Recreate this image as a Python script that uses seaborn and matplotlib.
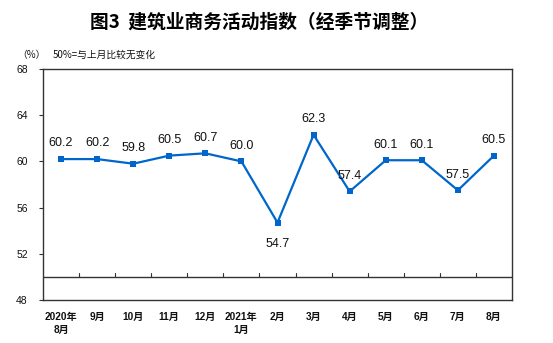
import matplotlib
matplotlib.use("Agg")
import matplotlib.pyplot as plt
import seaborn as sns
import pandas as pd

months = ["2020年\n8月", "9月", "10月", "11月", "12月", "2021年\n1月",
          "2月", "3月", "4月", "5月", "6月", "7月", "8月"]
index_values = [60.2, 60.2, 59.8, 60.5, 60.7, 60.0, 54.7, 62.3, 57.4, 60.1, 60.1, 57.5, 60.5]
y_ticks = [48, 52, 56, 60, 64, 68]

sns.set_theme(style="white")
plt.rcParams["font.family"] = ["Liberation Sans", "Noto Sans CJK SC", "DejaVu Sans"]

df = pd.DataFrame({"month": months, "value": index_values})
df["pos"] = range(len(df))

fig = plt.figure(figsize=(5.53, 3.43), dpi=100)
ax = fig.add_axes([43 / 553, 1 - 300 / 343, (512 - 43) / 553, (300 - 69) / 343])

line_color = "#0066CC"
sns.lineplot(data=df, x="pos", y="value", ax=ax, color=line_color, linewidth=1.6,
             marker="s", markersize=4.5, markeredgewidth=0, markerfacecolor=line_color)

ax.set_xlim(-0.5, len(months) - 0.5)
ax.set_ylim(48, 68)
ax.set_yticks(y_ticks)
ax.set_yticklabels([str(v) for v in y_ticks], fontsize=7.5, color="#111111")
ax.tick_params(axis="y", length=3, width=0.8, color="#333333", left=True, pad=8)
ax.set_xticks([])
ax.set_xlabel("")
ax.set_ylabel("")

for sp in ax.spines.values():
    sp.set_color("#333333")
    sp.set_linewidth(1.0)

# reference line at 50
ax.axhline(50, color="#333333", linewidth=1.0)
# category separators sitting on the 50 line
for b in range(1, len(months)):
    ax.plot([b - 0.5, b - 0.5], [50, 50.3], color="#333333", linewidth=0.8)

# month labels below the plot area
for i, m in enumerate(months):
    ax.text(i, 47.0, m, ha="center", va="top", fontsize=7.3, fontweight="bold",
            color="#111111", linespacing=1.4)

# value labels
for i, v in enumerate(index_values):
    if v < 55:
        ax.annotate(f"{v:.1f}", (i, v), xytext=(0, -11), textcoords="offset points",
                    ha="center", va="top", fontsize=9, color="#111111")
    else:
        ax.annotate(f"{v:.1f}", (i, v), xytext=(0, 7), textcoords="offset points",
                    ha="center", va="bottom", fontsize=9, color="#111111")

fig.text(259 / 553, 1 - 22 / 343, "图3  建筑业商务活动指数（经季节调整）",
         ha="center", va="center", fontsize=13.5, fontweight="bold",
         family=["Noto Sans CJK SC", "DejaVu Sans"], color="#000000")
fig.text(17 / 553, 1 - 55 / 343, "（%）", ha="left", va="center", fontsize=7,
         family=["Noto Sans CJK SC", "DejaVu Sans"], color="#111111")
fig.text(53 / 553, 1 - 55 / 343, "50%=与上月比较无变化", ha="left", va="center", fontsize=7,
         family=["Noto Sans CJK SC", "DejaVu Sans"], color="#111111")

fig.savefig("out.png", dpi=100)
